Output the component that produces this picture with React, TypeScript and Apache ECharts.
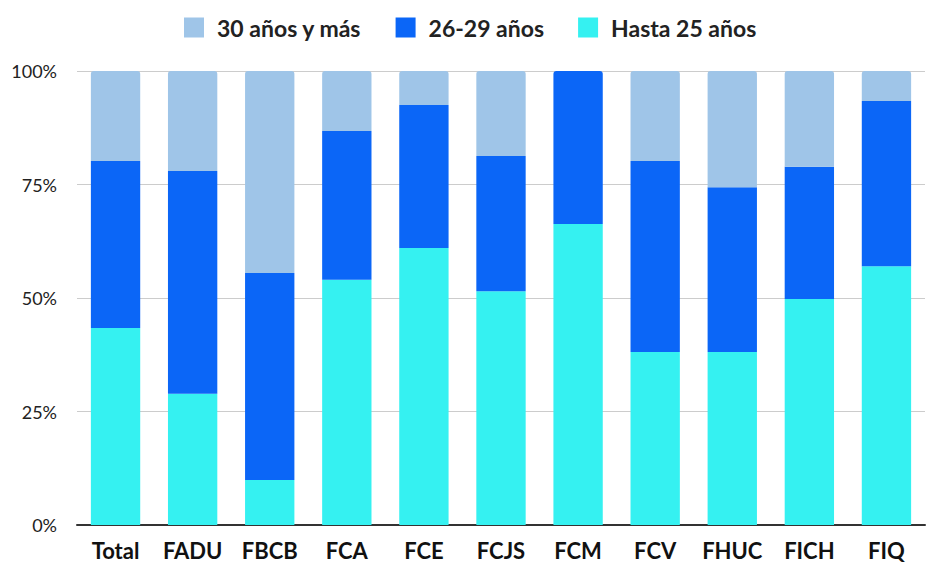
import React, { useEffect, useRef } from "react";
import * as echarts from "echarts";

const categories = ["Total", "FADU", "FBCB", "FCA", "FCE", "FCJS", "FCM", "FCV", "FHUC", "FICH", "FIQ"];
const hasta25 = [43.4, 28.9, 9.9, 54.0, 61.0, 51.5, 66.3, 38.1, 38.1, 49.8, 57.0];
const de26a29 = [36.8, 49.1, 45.6, 32.8, 31.5, 29.8, 33.7, 42.1, 36.3, 29.1, 36.4];
const de30ymas = [19.8, 22.0, 44.5, 13.2, 7.5, 18.7, 0, 19.8, 25.6, 21.1, 6.6];
const yTicks = [0, 25, 50, 75, 100];

const FONT = "Lato, 'Open Sans', sans-serif";

export default function App() {
  const ref = useRef<HTMLDivElement>(null);
  useEffect(() => {
    if (!ref.current) return;
    const chart = echarts.init(ref.current, null, { renderer: "svg" });
    const barW = "64%";
    chart.setOption({
      animation: false,
      textStyle: { fontFamily: FONT },
      legend: {
        top: 11,
        left: 179,
        itemWidth: 20,
        itemHeight: 20,
        itemGap: 34,
        icon: "rect",
        textStyle: { fontSize: 23, fontWeight: "bold", color: "#222", fontFamily: FONT, padding: [0, 0, 0, 8] },
        data: ["30 años y más", "26-29 años", "Hasta 25 años"],
      },
      grid: { left: 77, right: 1, top: 71, bottom: 37, containLabel: false },
      xAxis: {
        type: "category",
        data: categories,
        axisLine: { lineStyle: { color: "#333", width: 2 } },
        axisTick: { show: false },
        axisLabel: {
          interval: 0,
          fontSize: 22,
          lineHeight: 22,
          fontWeight: "bold",
          color: "#111",
          margin: 14,
          fontFamily: FONT,
        },
      },
      yAxis: {
        type: "value",
        min: yTicks[0],
        max: yTicks[yTicks.length - 1],
        interval: 25,
        axisLine: { show: false },
        axisTick: { show: false },
        splitLine: { lineStyle: { color: "#cccccc", width: 1 } },
        axisLabel: { fontSize: 18, color: "#222", margin: 20, formatter: (v: number) => `${v}%`, fontFamily: FONT },
      },
      series: [
        {
          name: "Hasta 25 años",
          type: "bar",
          stack: "s",
          barWidth: barW,
          data: hasta25,
          itemStyle: { color: "#35f1f1" },
        },
        {
          name: "26-29 años",
          type: "bar",
          stack: "s",
          barWidth: barW,
          data: de26a29.map((v, i) => ({
            value: v,
            itemStyle: de30ymas[i] === 0 ? { borderRadius: [3, 3, 0, 0] } : {},
          })),
          itemStyle: { color: "#0b66f7" },
        },
        {
          name: "30 años y más",
          type: "bar",
          stack: "s",
          barWidth: barW,
          data: de30ymas,
          itemStyle: { color: "#9fc5e8", borderRadius: [3, 3, 0, 0] },
        },
      ],
    });
    return () => chart.dispose();
  }, []);
  return (
    <div
      ref={ref}
      style={{ position: "absolute", left: 0, top: 0, width: 926, height: 562 }}
    />
  );
}
